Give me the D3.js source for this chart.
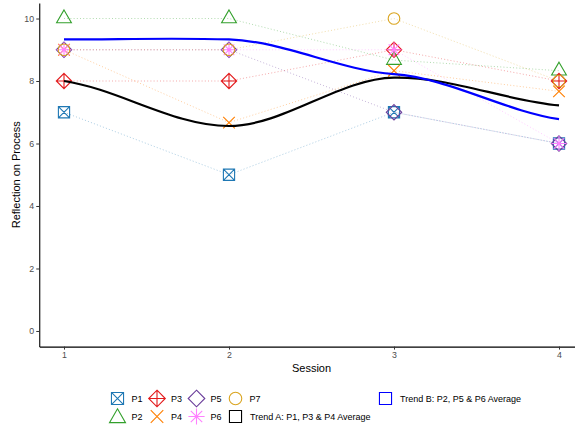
<!DOCTYPE html>
<html>
<head>
<meta charset="utf-8">
<script src="https://cdn.jsdelivr.net/npm/d3@7"></script>
<style>
  html, body { margin: 0; padding: 0; background: #fff; }
  svg { display: block; font-family: "Liberation Sans", Arial, Helvetica, sans-serif; }
</style>
</head>
<body>
<svg id="chart" width="575" height="428"></svg>
<script>
// ---------------- data ----------------
const sessions = [1, 2, 3, 4];
const P1 = [7, 5, 7, 6];
const P2 = [10, 10, 8.67, 8.33];
const P3 = [8, 8, 9, 8];
const P4 = [9, 6.67, 8.33, 7.67];
const P5 = [9, 9, 7, 6];
const P6 = [9, 9, 9, 6];
const P7 = [9, 9, 10, 8];
const trendA = [8, 6.56, 8.11, 7.22];   // P1, P3 & P4 average
const trendB = [9.33, 9.33, 8.22, 6.78]; // P2, P5 & P6 average
const participantNames = ["P1", "P2", "P3", "P4", "P5", "P6", "P7"];
const participantValues = [P1, P2, P3, P4, P5, P6, P7];
const yTicks = [0, 2, 4, 6, 8, 10];
const xTicks = [1, 2, 3, 4];
const trendNames = ["Trend A: P1, P3 & P4 Average", "Trend B: P2, P5 & P6 Average"];

// ---------------- styles ----------------
const colors = ["#1F78B4", "#33A02C", "#E31A1C", "#FF7F00", "#6A3D9A", "#FF80FF", "#DAA520"];
const shapes = ["squareX", "triangle", "diamondPlus", "x", "diamond", "asterisk", "circle"];
const trendColors = ["#000000", "#0000FF"];

const svg = d3.select("#chart");
const x = d3.scaleLinear().domain([0.85, 4.15]).range([39.25, 583.75]);
const y = d3.scaleLinear().domain([-0.5, 10.5]).range([346.6, 2.9]);

function symbolPath(shape, cx, cy, s) {
  const p = d3.path();
  const R = 5.8 * s;
  if (shape === "squareX" || shape === "square") {
    const a = 5.6 * s;
    p.rect(cx - a, cy - a, 2 * a, 2 * a);
    if (shape === "squareX") {
      p.moveTo(cx - a, cy - a); p.lineTo(cx + a, cy + a);
      p.moveTo(cx - a, cy + a); p.lineTo(cx + a, cy - a);
    }
  } else if (shape === "triangle") {
    const hw = 7.4 * s, ap = 8.55 * s, bs = 4.27 * s;
    p.moveTo(cx, cy - ap); p.lineTo(cx + hw, cy + bs); p.lineTo(cx - hw, cy + bs); p.closePath();
  } else if (shape === "diamond" || shape === "diamondPlus") {
    const d = 7.7 * s;
    p.moveTo(cx, cy - d); p.lineTo(cx + d, cy); p.lineTo(cx, cy + d); p.lineTo(cx - d, cy); p.closePath();
    if (shape === "diamondPlus") {
      p.moveTo(cx, cy - d); p.lineTo(cx, cy + d);
      p.moveTo(cx - d, cy); p.lineTo(cx + d, cy);
    }
  } else if (shape === "x") {
    const a = R;
    p.moveTo(cx - a, cy - a); p.lineTo(cx + a, cy + a);
    p.moveTo(cx - a, cy + a); p.lineTo(cx + a, cy - a);
  } else if (shape === "asterisk") {
    const a = 5.3 * s, r = 7.5 * s;
    p.moveTo(cx - a, cy - a); p.lineTo(cx + a, cy + a);
    p.moveTo(cx - a, cy + a); p.lineTo(cx + a, cy - a);
    p.moveTo(cx - r, cy); p.lineTo(cx + r, cy);
    p.moveTo(cx, cy - r); p.lineTo(cx, cy + r);
  } else if (shape === "circle") {
    p.moveTo(cx + R, cy); p.arc(cx, cy, R, 0, 2 * Math.PI);
  }
  return p.toString();
}

// custom tight Hermite curve (x-spline like) for the trend lines
function tightCurve(context) {
  let pts = [];
  return {
    areaStart() {}, areaEnd() {},
    lineStart() { pts = []; },
    point(px, py) { pts.push([+px, +py]); },
    lineEnd() {
      const n = pts.length;
      if (!n) return;
      const m = new Array(n);
      for (let i = 0; i < n; i++) {
        if (i === 0) m[i] = 0.55 * (pts[1][1] - pts[0][1]) / (pts[1][0] - pts[0][0]);
        else if (i === n - 1) m[i] = 0.55 * (pts[i][1] - pts[i - 1][1]) / (pts[i][0] - pts[i - 1][0]);
        else m[i] = 0.3 * (pts[i + 1][1] - pts[i - 1][1]) / (pts[i + 1][0] - pts[i - 1][0]);
      }
      context.moveTo(pts[0][0], pts[0][1]);
      for (let i = 0; i < n - 1; i++) {
        const h = pts[i + 1][0] - pts[i][0];
        context.bezierCurveTo(
          pts[i][0] + h / 3, pts[i][1] + m[i] * h / 3,
          pts[i + 1][0] - h / 3, pts[i + 1][1] - m[i + 1] * h / 3,
          pts[i + 1][0], pts[i + 1][1]);
      }
    }
  };
}

// ---------------- axes ----------------
const yAxis = svg.append("g").attr("transform", `translate(${x.range()[0]},0)`)
  .call(d3.axisLeft(y).tickValues(yTicks).tickFormat(d3.format("d")).tickSize(3).tickSizeOuter(0).tickPadding(2.2));
const xAxis = svg.append("g").attr("transform", `translate(0,${y.range()[0]})`)
  .call(d3.axisBottom(x).tickValues(xTicks).tickFormat(d3.format("d")).tickSize(3).tickSizeOuter(0).tickPadding(2.2));
[yAxis, xAxis].forEach(g => {
  g.select(".domain").attr("stroke", "#000").attr("stroke-width", 1.1);
  g.selectAll(".tick line").attr("stroke", "#333").attr("stroke-width", 1);
  g.selectAll(".tick text").attr("fill", "#4D4D4D").style("font-size", "8.8px")
    .style("font-family", '"Liberation Sans", Arial, sans-serif');
});

svg.append("text").attr("x", (x.range()[0] + x.range()[1]) / 2).attr("y", 372)
  .attr("text-anchor", "middle").style("font-size", "11px").attr("fill", "#000").text("Session");
svg.append("text").attr("transform", `translate(19.5,${(y.range()[0] + y.range()[1]) / 2}) rotate(-90)`)
  .attr("text-anchor", "middle").style("font-size", "11px").attr("fill", "#000").text("Reflection on Process");

// ---------------- participant dotted lines ----------------
const line = d3.line().x((d, i) => x(sessions[i])).y(d => y(d));
participantValues.forEach((vals, k) => {
  svg.append("path").attr("d", line(vals)).attr("fill", "none")
    .attr("stroke", colors[k]).attr("stroke-opacity", 0.38).attr("stroke-width", 1)
    .attr("stroke-dasharray", "1,2.2");
});

// ---------------- markers ----------------
participantValues.forEach((vals, k) => {
  svg.append("g").selectAll("path").data(vals).join("path")
    .attr("d", (d, i) => symbolPath(shapes[k], x(sessions[i]), y(d), 1))
    .attr("fill", "none").attr("stroke", colors[k]).attr("stroke-width", 1.1);
});

// ---------------- trend lines ----------------
const trendLine = d3.line().x((d, i) => x(sessions[i])).y(d => y(d)).curve(tightCurve);
[trendA, trendB].forEach((vals, k) => {
  svg.append("path").attr("d", trendLine(vals)).attr("fill", "none")
    .attr("stroke", trendColors[k]).attr("stroke-width", 2.2);
});

// ---------------- legend ----------------
const legendCols = [117.5, 157, 196.5, 235.5];
const legendRows = [398.5, 416.5];
const legend = svg.append("g");
participantNames.forEach((name, k) => {
  const col = Math.floor(k / 2), row = k % 2;
  const cx = legendCols[col], cy = legendRows[row];
  legend.append("path").attr("d", symbolPath(shapes[k], cx, cy + (shapes[k] === "triangle" ? 1.5 : 0), 1.08))
    .attr("fill", "none").attr("stroke", colors[k]).attr("stroke-width", 1.1);
  legend.append("text").attr("x", cx + 14).attr("y", cy).attr("dy", "0.35em")
    .style("font-size", "9px").attr("fill", "#000").text(name);
});
const trendKeys = [[legendCols[3], legendRows[1]], [385.5, legendRows[0]]];
trendNames.forEach((name, k) => {
  const [cx, cy] = trendKeys[k];
  legend.append("path").attr("d", symbolPath("square", cx, cy, 1.08))
    .attr("fill", "none").attr("stroke", trendColors[k]).attr("stroke-width", 1.1);
  legend.append("text").attr("x", cx + 14.5).attr("y", cy).attr("dy", "0.35em")
    .style("font-size", "9px").attr("fill", "#000").text(name);
});
</script>
</body>
</html>
